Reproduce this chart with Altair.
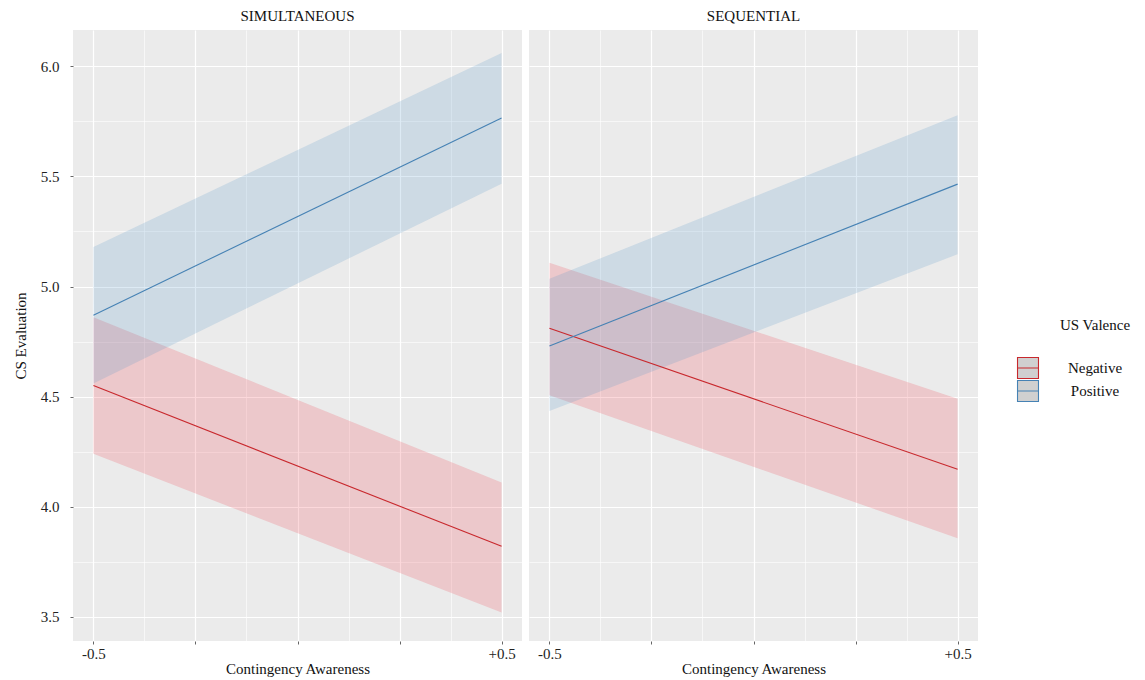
import altair as alt
import pandas as pd

# ---- data ----
conditions = ["SIMULTANEOUS", "SEQUENTIAL"]
valences = ["Negative", "Positive"]
x_vals = [-0.5, 0.5]

sim_neg_fit = [4.55, 3.82]
sim_neg_lo = [4.24, 3.52]
sim_neg_hi = [4.86, 4.11]
sim_pos_fit = [4.87, 5.765]
sim_pos_lo = [4.56, 5.467]
sim_pos_hi = [5.18, 6.06]

seq_neg_fit = [4.81, 4.17]
seq_neg_lo = [4.506, 3.857]
seq_neg_hi = [5.108, 4.49]
seq_pos_fit = [4.73, 5.465]
seq_pos_lo = [4.435, 5.147]
seq_pos_hi = [5.035, 5.778]

x_ticks = [-0.5, -0.375, -0.25, -0.125, 0.0, 0.125, 0.25, 0.375, 0.5]
y_ticks = [3.5, 3.75, 4.0, 4.25, 4.5, 4.75, 5.0, 5.25, 5.5, 5.75, 6.0]

series = [
    ("SIMULTANEOUS", "Negative", sim_neg_fit, sim_neg_lo, sim_neg_hi),
    ("SIMULTANEOUS", "Positive", sim_pos_fit, sim_pos_lo, sim_pos_hi),
    ("SEQUENTIAL", "Negative", seq_neg_fit, seq_neg_lo, seq_neg_hi),
    ("SEQUENTIAL", "Positive", seq_pos_fit, seq_pos_lo, seq_pos_hi),
]
rows = []
for cond, val, fit, lo, hi in series:
    for i, xv in enumerate(x_vals):
        rows.append({"cond": cond, "valence": val, "x": xv,
                     "fit": fit[i], "lo": lo[i], "hi": hi[i]})
df = pd.DataFrame(rows)
legend_df = pd.DataFrame({"valence": valences})

FONT = "Liberation Serif"
FS = 15
TXT = "#111111"
line_colors = ["#C8282D", "#4682B4"]
fill_colors = ["#F03C4B", "#5596C8"]
BOX_PATH = "M-1,-1H1V1H-1Z M-1,0H1"

major_x = "(datum.value * 4) % 1 === 0"
major_y = "(datum.value * 2) % 1 === 0"

x_enc = alt.X(
    "x:Q",
    scale=alt.Scale(domain=[-0.55, 0.55], nice=False, zero=False),
    axis=alt.Axis(
        title="Contingency Awareness",
        values=x_ticks,
        labelExpr="datum.value === -0.5 ? '-0.5' : (datum.value === 0.5 ? '+0.5' : '')",
        grid=True,
        gridColor="white",
        gridWidth={"condition": {"test": major_x, "value": 1.2}, "value": 0.6},
        tickColor={"condition": {"test": major_x, "value": "#666666"}, "value": "transparent"},
        tickSize=3,
        domain=False,
        labelFont=FONT, labelFontSize=FS, labelColor="#222222", labelPadding=2,
        labelOverlap=False, labelFlush=False,
        titleFont=FONT, titleFontSize=FS, titleFontWeight="normal", titleColor=TXT,
        titlePadding=0,
    ),
)
y_scale = alt.Scale(domain=[3.39, 6.165], nice=False, zero=False)


def y_axis(show):
    common = dict(
        values=y_ticks,
        grid=True,
        gridColor="white",
        gridWidth={"condition": {"test": major_y, "value": 1.2}, "value": 0.6},
        domain=False,
        labelOverlap=False,
    )
    if show:
        return alt.Axis(
            title="CS Evaluation",
            labelExpr="(datum.value * 2) % 1 === 0 ? format(datum.value, '.1f') : ''",
            tickColor={"condition": {"test": major_y, "value": "#666666"}, "value": "transparent"},
            tickSize=3,
            labelFont=FONT, labelFontSize=FS, labelColor="#222222", labelPadding=11,
            titleFont=FONT, titleFontSize=FS, titleFontWeight="normal", titleColor=TXT,
            titlePadding=12,
            **common,
        )
    return alt.Axis(title=None, labels=False, ticks=False, **common)


def panel(cond, show_y):
    data = df[df["cond"] == cond]
    band = alt.Chart().mark_area(opacity=0.2).encode(
        x=x_enc,
        y=alt.Y("lo:Q", scale=y_scale, axis=y_axis(show_y)),
        y2="hi:Q",
        fill=alt.Fill("valence:N", scale=alt.Scale(domain=valences, range=fill_colors), legend=None),
    )
    line = alt.Chart().mark_line(strokeWidth=1.1).encode(
        x=x_enc,
        y=alt.Y("fit:Q", scale=y_scale, axis=y_axis(show_y)),
        stroke=alt.Stroke("valence:N", scale=alt.Scale(domain=valences, range=line_colors), legend=None),
    )
    return alt.layer(band, line, data=data).properties(
        width=449, height=611,
        title=alt.TitleParams(cond, font=FONT, fontSize=FS, fontWeight="normal",
                              color=TXT, anchor="middle", offset=6),
        view=alt.ViewBackground(fill="#EBEBEB", stroke=None),
    )


# legend built from the valence categories
leg_y = alt.Y("valence:N", axis=None,
              scale=alt.Scale(domain=valences, range=[338, 361], padding=0))
leg_symbols = alt.Chart(legend_df).mark_point(
    shape=BOX_PATH, size=440, filled=True, fill="#D0D0D0", strokeWidth=1.1, opacity=1
).encode(
    x=alt.value(40),
    y=leg_y,
    stroke=alt.Stroke("valence:N", scale=alt.Scale(domain=valences, range=line_colors), legend=None),
)
leg_labels = alt.Chart(legend_df).mark_text(
    font=FONT, fontSize=FS, color=TXT, align="center", baseline="middle"
).encode(
    x=alt.value(107),
    y=leg_y,
    text="valence:N",
)
leg_title = alt.Chart(legend_df).transform_filter(
    "datum.valence === 'Negative'"
).transform_calculate(label="'US Valence'").mark_text(
    font=FONT, fontSize=FS, color=TXT, align="center", baseline="middle"
).encode(
    x=alt.value(107),
    y=alt.value(295),
    text="label:N",
)
legend = alt.layer(leg_symbols, leg_labels, leg_title).properties(
    width=135, height=611,
    view=alt.ViewBackground(fill="white", stroke=None),
)

panels = alt.hconcat(panel(conditions[0], True), panel(conditions[1], False), spacing=7)
chart = alt.hconcat(panels, legend, spacing=10).resolve_scale(
    stroke="independent", fill="independent"
).properties(
    padding={"left": 5, "top": 1, "right": 5, "bottom": 5},
    background="white",
)

chart.save("out.html", embed_options={"renderer": "svg", "actions": False})
